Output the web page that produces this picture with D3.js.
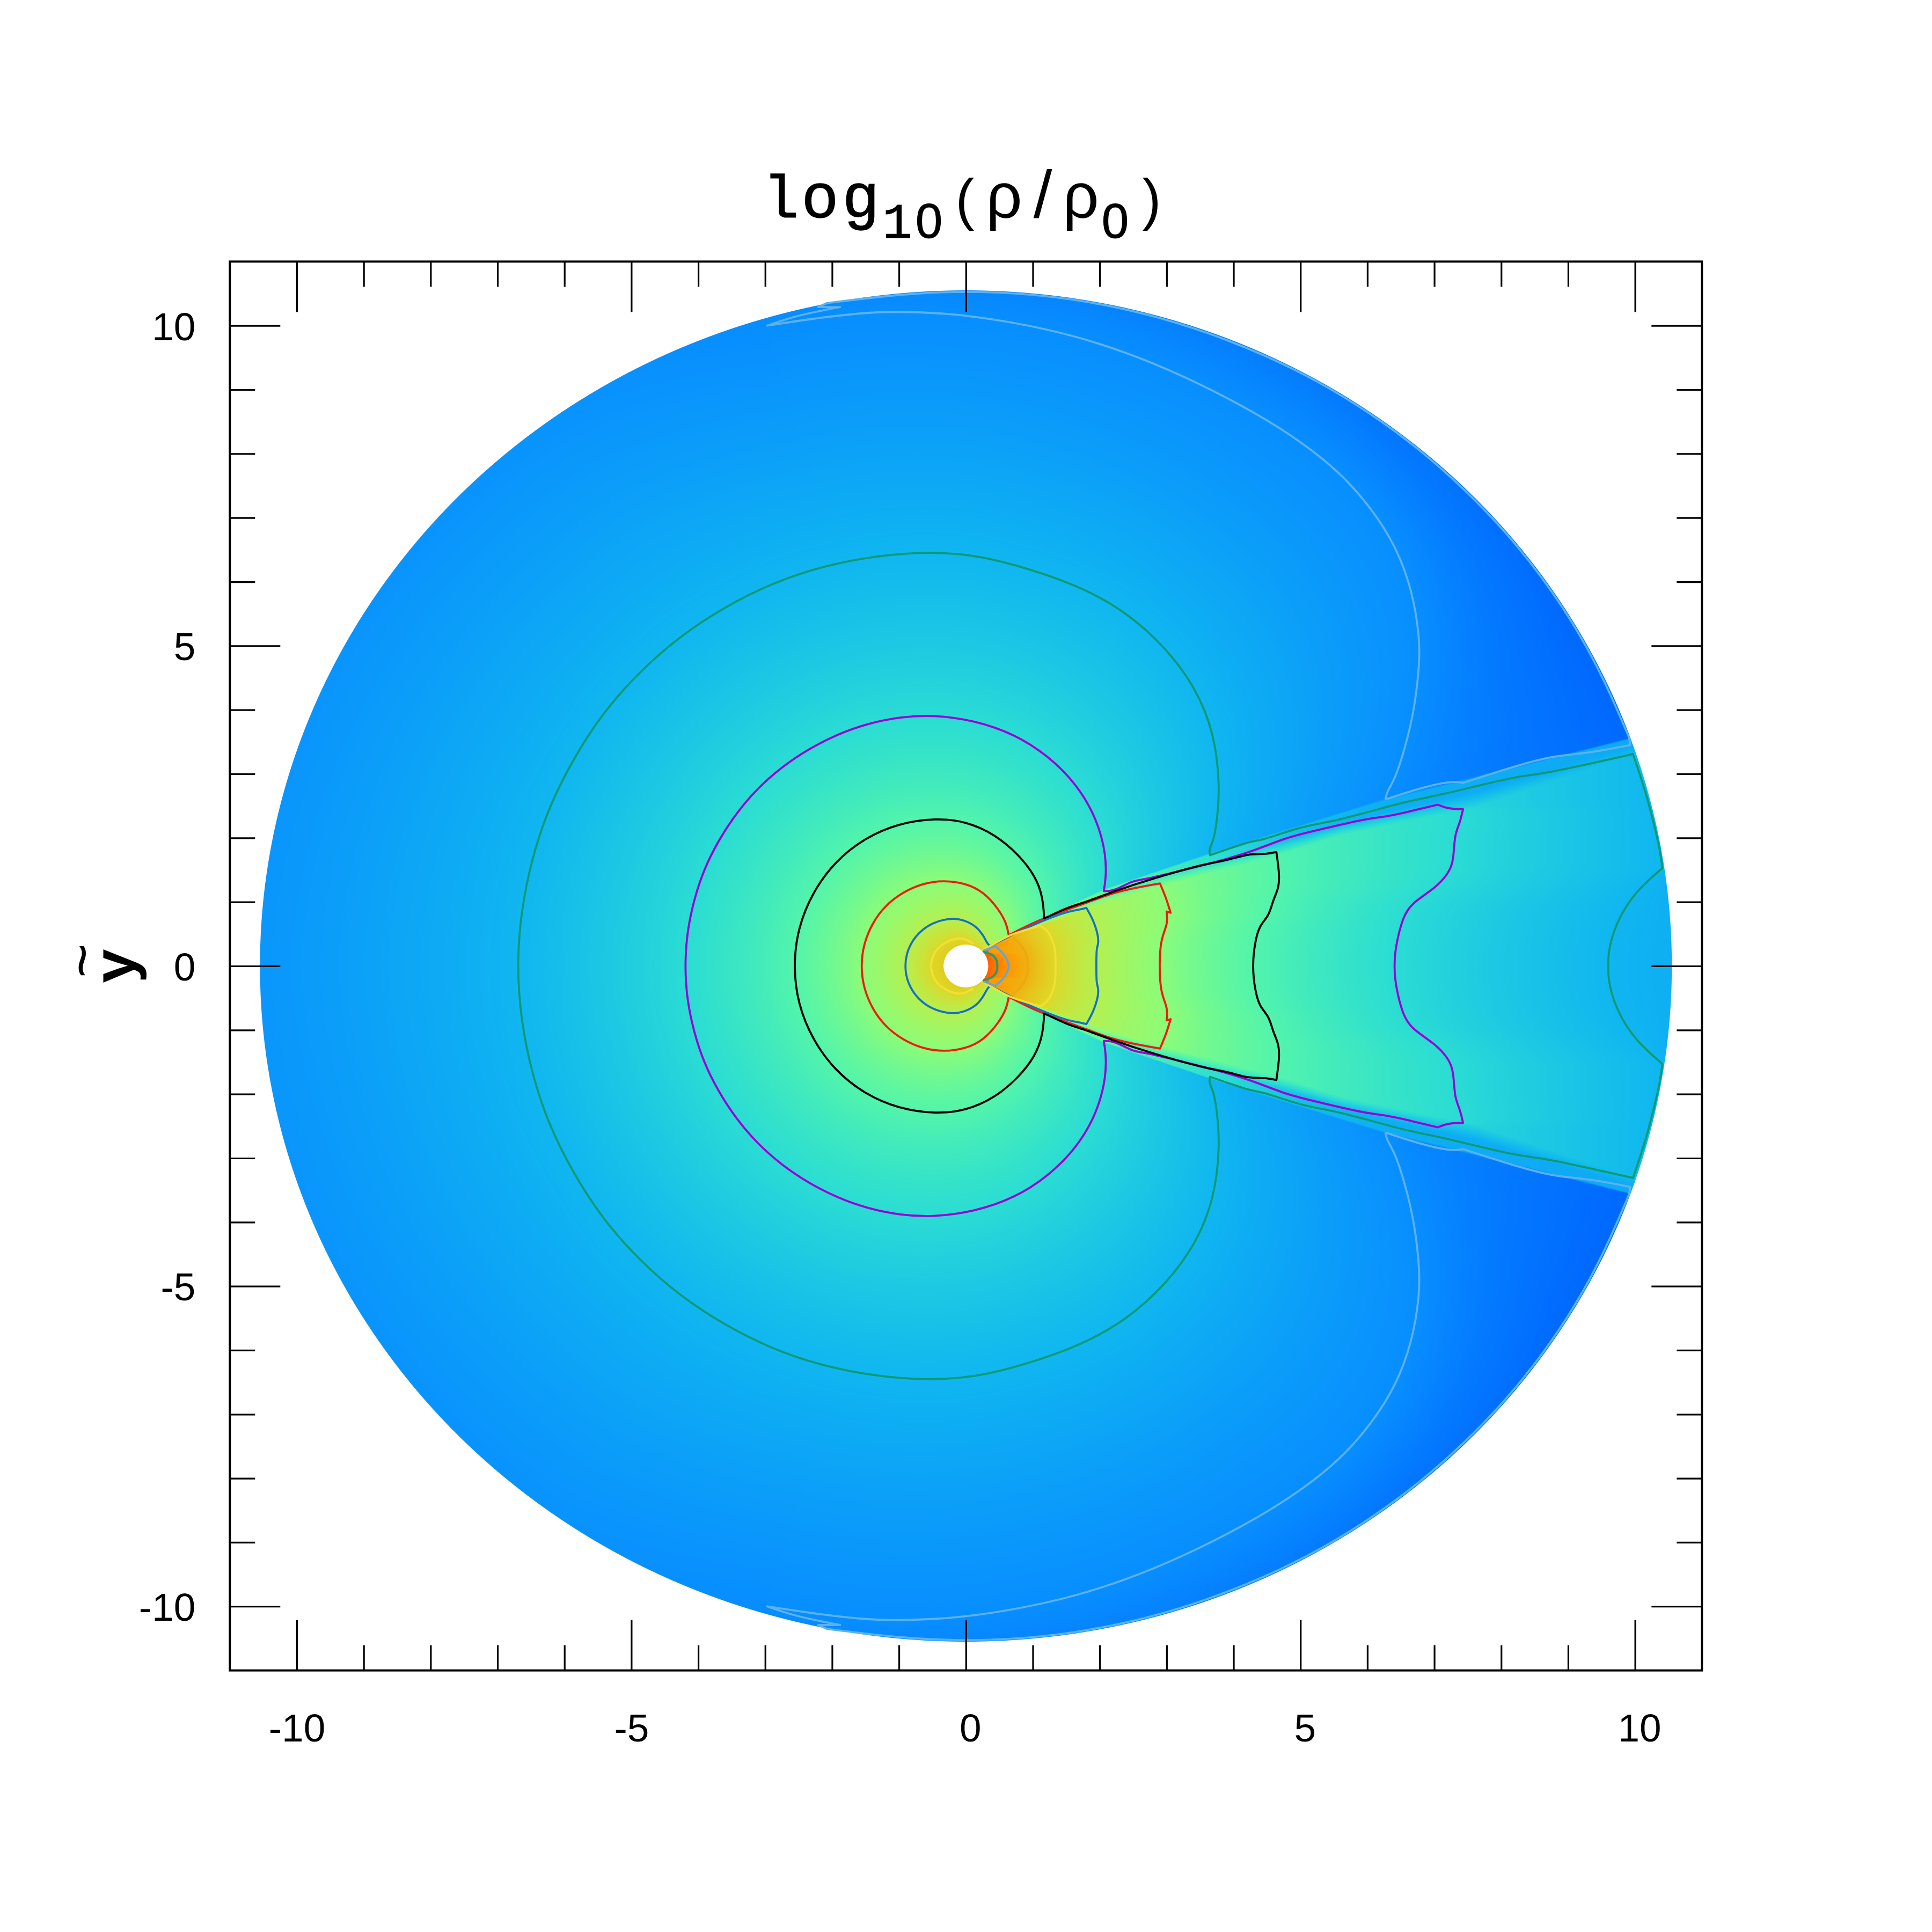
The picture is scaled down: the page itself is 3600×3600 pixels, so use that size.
<!DOCTYPE html>
<html>
<head>
<meta charset="utf-8">
<script src="https://cdn.jsdelivr.net/npm/d3@7"></script>
<style>
  html, body { margin: 0; background: #fff; }
  #field, #chart { position: absolute; left: 0; top: 0; }
</style>
</head>
<body>
<canvas id="field" width="3600" height="3600"></canvas>
<svg id="chart" width="3600" height="3600"></svg>
<script>
// tick values
const majorTicks = [-10, -5, 0, 5, 10]
const minorTicks = [-9, -8, -7, -6, -4, -3, -2, -1, 1, 2, 3, 4, 6, 7, 8, 9]
const tickLabels = ["-10", "-5", "0", "5", "10"]

// disc radii
const discRadius = 10.55
const holeRadius = 0.335

// contours, upper half only, the lower half is the mirror image. [x, y] in axis units
// Ext = outside the wedge, Edge = running along the wedge, Int = inside the wedge
// a point written twice is a sharp corner
const lightExt = [[-2.97,10.0],[-2.97,10.0],[-2.29,10.11],[-1.55,10.2],[-1.09,10.22],[-0.48,10.2],[0,10.16],[0.73,10.05],[1.65,9.84],[2.57,9.52],[3.49,9.10],[4.41,8.59],[5.03,8.17],[5.58,7.72],[6.07,7.14],[6.44,6.53],[6.68,5.83],[6.78,5.12],[6.78,4.74],[6.71,4.03],[6.56,3.39],[6.41,2.91],[6.29,2.72],[6.27,2.60],[6.27,2.60]]
const lightHook = [[-2.53,10.16],[-1.88,10.29],[-1.88,10.29],[-2.21,10.29],[-2.21,10.29],[-2.08,10.35],[-2.08,10.35]]
const lightRim = [[-0.92,10.50],[0,10.54],[0.92,10.50],[1.83,10.38],[2.73,10.18],[3.6,9.90],[4.45,9.55],[5.27,9.13],[6.05,8.63],[6.78,8.07],[7.45,7.45],[8.07,6.78],[8.63,6.05],[9.13,5.27],[9.55,4.45],[9.91,3.57],[9.91,3.57]]
const lightEdge = [[9.93,3.45],[9.93,3.45],[9.29,3.32],[8.83,3.29],[8.32,3.16],[7.43,2.86],[7.43,2.86],[7.25,2.89],[6.79,2.78]]

const greenExt = [[-6.71,0],[-6.65,0.85],[-6.49,1.67],[-6.24,2.47],[-5.87,3.235],[-5.43,3.95],[-4.90,4.575],[-4.29,5.14],[-3.62,5.60],[-2.90,5.98],[-2.13,6.25],[-1.33,6.41],[-0.54,6.47],[0.1,6.42],[0.67,6.29],[1.65,5.96],[2.39,5.54],[3.0,4.96],[3.43,4.35],[3.71,3.65],[3.80,2.81],[3.75,2.24],[3.70,1.95],[3.63,1.82],[3.65,1.73],[3.65,1.73]]
const greenEdge = [[4.28,1.96],[4.39,1.95],[5.05,2.19],[5.41,2.24],[5.97,2.39],[6.58,2.57],[7.09,2.67],[7.71,2.83],[8.25,2.96],[8.53,2.99],[8.99,3.08],[9.97,3.31],[9.97,3.31],[10.16,2.72],[10.29,2.19],[10.37,1.83]]
const greenInt = [[10.41,1.53],[10.41,1.53],[10.09,1.24],[9.86,0.94],[9.68,0.56],[9.60,0.21],[9.60,0]]

const purpleExt = [[-4.20,0],[-4.17,0.51],[-4.07,1.015],[-3.92,1.50],[-3.70,1.96],[-3.43,2.39],[-3.12,2.77],[-2.75,3.11],[-2.35,3.39],[-1.92,3.62],[-1.46,3.79],[-0.98,3.89],[-0.5,3.92],[0.12,3.84],[0.73,3.62],[1.22,3.29],[1.65,2.85],[1.96,2.30],[2.10,1.72],[2.09,1.34],[2.06,1.17],[2.06,1.17]]
const purpleEdge = [[2.22,1.17],[2.50,1.34],[2.68,1.35],[3.22,1.49],[3.73,1.62],[4.29,1.79],[4.79,2.01],[5.25,2.12],[5.97,2.30],[6.28,2.33],[6.66,2.42]]
const purpleInt = [[7.05,2.52],[7.05,2.52],[7.17,2.47],[7.30,2.45],[7.43,2.45],[7.43,2.45],[7.38,2.22],[7.30,2.05],[7.29,1.62],[7.20,1.43],[7.02,1.22],[6.66,0.98],[6.53,0.77],[6.42,0.30],[6.40,0]]

const blackExt = [[-2.58,0],[-2.51,0.60],[-2.29,1.155],[-1.96,1.63],[-1.515,2.0],[-1.0,2.23],[-0.45,2.31],[0,2.26],[0.43,2.06],[0.79,1.74],[1.04,1.40],[1.15,1.08],[1.17,0.74],[1.17,0.74]]
const blackEdge = [[1.53,0.92],[1.74,0.98],[2.20,1.16],[2.71,1.34],[3.58,1.60],[3.88,1.64],[4.24,1.76],[4.45,1.74]]
const blackInt = [[4.64,1.78],[4.64,1.78],[4.69,1.41],[4.67,1.2],[4.59,1.03],[4.53,0.78],[4.39,0.64],[4.32,0.38],[4.28,0]]

const redExt = [[-1.57,0],[-1.53,0.34],[-1.40,0.67],[-1.21,0.94],[-0.95,1.15],[-0.65,1.29],[-0.33,1.34],[0,1.29],[0.26,1.16],[0.49,0.89],[0.61,0.66],[0.64,0.48],[0.64,0.48]]
const redEdge = [[1.10,0.73],[1.69,0.94],[2.2,1.15],[2.63,1.24]]
const redInt = [[2.90,1.29],[2.90,1.29],[2.99,1.07],[3.06,0.83],[3.06,0.83],[3.0,0.85],[3.0,0.85],[3.02,0.66],[2.91,0.42],[2.89,0]]

const blueExt = [[-0.92,0],[-0.87,0.28],[-0.71,0.53],[-0.48,0.69],[-0.21,0.75],[-0.03,0.72],[0.16,0.62],[0.27,0.46],[0.32,0.35],[0.36,0.31],[0.36,0.31]]
const blueEdge = [[0.64,0.46],[0.93,0.61],[1.47,0.84],[1.63,0.866]]
const blueInt = [[1.80,0.907],[1.80,0.907],[1.90,0.73],[1.98,0.475],[1.98,0.335],[1.95,0.28],[1.95,0]]

const yellowExt = [[-0.52,0],[-0.46,0.215],[-0.295,0.37],[-0.07,0.43],[0.11,0.35]]
const yellowEdge = [[0.24,0.24],[0.36,0.31],[0.64,0.47]]
const yellowInt = [[1.11,0.63],[1.11,0.63],[1.22,0.54],[1.32,0.31],[1.34,0]]

const orangeInt = [[0.70,0.447],[0.855,0.28],[0.92,0.11],[0.92,0]]
const paleEdge = [[0.254,0.237]]
const paleInt = [[0.44,0.31],[0.44,0.31],[0.575,0.167],[0.64,0]]
const tealInt = [[0.254,0.223],[0.40,0.167],[0.46,0.084],[0.47,0]]

// edges of the wedge and of the thin band around it, [x, y]
const wedgeInner = [[0.24,0.235],[0.36,0.30],[0.64,0.46],[1.11,0.62],[1.8,0.87],[2.9,1.24],[4.64,1.72],[5.61,2.04],[7.62,2.48],[9.87,3.27],[10.6,3.53]]
const wedgeOuter = [[0.24,0.235],[0.36,0.31],[0.64,0.49],[1.17,0.76],[2.06,1.20],[3.63,1.76],[6.27,2.62],[9.91,3.56],[10.6,3.74]]

// level of the band between wedge and outside, by x
const bandX = [1, 5, 6.3, 10]
const bandLevels = [4, 1.2, 0.8, 0.7]

// level of the field along the rim of the disc, by polar angle in degrees
const rimAngles = [0, 30, 45, 60, 80, 100, 107, 125, 180]
const rimLevels = [-1, -1, -0.8, -0.55, -0.3, -0.15, -0.05, 0.1, 0.2]
const rimLevelInside = 0.8
const holeLevelOutside = 6.3
const holeLevelInside = 10

// colour map, one colour per contour level
const fieldLevels = [-1, 0, 1, 2, 3, 4, 5, 6, 7, 8, 9, 10]
const fieldColors = ["#0068ff","#088eff","#10b6f0","#2adcd4","#52f4ac","#8cfc78","#b4f050","#dcd828","#f0b010","#ff9500","#ff7a00","#ff6000"]

const x = d3.scaleLinear().domain([-11, 11]).range([428.3, 3171.3])
const y = d3.scaleLinear().domain([-11, 11]).range([3112.6, 487.4])

// ---- field ----
const color = d3.scaleLinear().domain(fieldLevels).range(fieldColors).clamp(true)
const colorSteps = 2400
const colorLut = d3.range(colorSteps + 1).map(i => {
	const c = d3.rgb(color(-1 + 11 * i / colorSteps))
	return [c.r, c.g, c.b]
})

const rimLevel = d3.scaleLinear().domain(rimAngles).range(rimLevels)
const bandLevel = d3.scaleLinear().domain(bandX).range(bandLevels).clamp(true)
const edgeScale = pts => d3.scaleLinear().domain(pts.map(d => d[0])).range(pts.map(d => d[1])).clamp(true)
const innerEdge = edgeScale(wedgeInner)
const outerEdge = edgeScale(wedgeOuter)

// radius of a contour against polar angle
function polarScale(pts) {
	const p = pts.map(d => [Math.atan2(d[1], d[0]) * 180 / Math.PI, Math.log(Math.hypot(d[0], d[1]))])
		.sort((a, b) => a[0] - b[0])
	return d3.scaleLinear().domain(p.map(d => d[0])).range(p.map(d => d[1])).clamp(true)
}

const lightTop = Math.atan2(lightExt[0][1], lightExt[0][0]) * 180 / Math.PI
const extContours = [
	{ level: 6, r: polarScale(yellowExt) },
	{ level: 5, r: polarScale(blueExt) },
	{ level: 4, r: polarScale(redExt) },
	{ level: 3, r: polarScale(blackExt) },
	{ level: 2, r: polarScale(purpleExt) },
	{ level: 1, r: polarScale(greenExt) },
	{ level: 0, r: polarScale(lightExt), maxAngle: lightTop }
]

// one radial profile for every quarter degree
const profiles = d3.range(721).map(i => {
	const th = i / 4
	const rs = [Math.log(holeRadius)]
	const ls = [holeLevelOutside]
	extContours.forEach(c => {
		if (c.maxAngle !== undefined && th > c.maxAngle) return
		rs.push(Math.max(c.r(th), rs[rs.length - 1] + 1e-4))
		ls.push(c.level)
	})
	rs.push(Math.max(Math.log(discRadius + 0.05), rs[rs.length - 1] + 1e-4))
	ls.push(rimLevel(th))
	return { rs, ls }
})

function lerpProfile(rs, ls, v) {
	if (v <= rs[0]) return ls[0]
	for (let i = 1; i < rs.length; i++) {
		if (v < rs[i]) return ls[i - 1] + (ls[i] - ls[i - 1]) * (v - rs[i - 1]) / (rs[i] - rs[i - 1])
	}
	return ls[ls.length - 1]
}

// x of an inside contour against |y|
function rowScale(pts) {
	const p = pts.slice().sort((a, b) => a[1] - b[1])
	return d3.scaleLinear().domain(p.map(d => d[1])).range(p.map(d => d[0])).clamp(true)
}
const intContours = [
	{ level: 9, x: rowScale(tealInt) },
	{ level: 8, x: rowScale(paleEdge.concat(paleInt)) },
	{ level: 7, x: rowScale(orangeInt) },
	{ level: 6, x: rowScale(yellowInt) },
	{ level: 5, x: rowScale(blueInt) },
	{ level: 4, x: rowScale(redInt) },
	{ level: 3, x: rowScale(blackInt) },
	{ level: 2, x: rowScale(purpleInt) },
	{ level: 1, x: rowScale(greenInt) }
]

function drawField() {
	const ctx = document.getElementById("field").getContext("2d")
	const x0 = Math.floor(x(-discRadius - 0.1)), x1 = Math.ceil(x(discRadius + 0.1))
	const y0 = Math.floor(y(discRadius + 0.1)), y1 = Math.ceil(y(-discRadius - 0.1))
	const w = x1 - x0, h = y1 - y0
	const img = ctx.createImageData(w, h)
	const xs = new Float64Array(w)
	for (let i = 0; i < w; i++) xs[i] = x.invert(x0 + i + 0.5)
	const scaleStep = colorSteps / 11

	for (let j = 0; j < h; j++) {
		const ay = Math.abs(y.invert(y0 + j + 0.5))
		const rowR = [Math.log(holeRadius)]
		const rowL = [holeLevelInside]
		intContours.forEach(c => {
			rowR.push(Math.max(Math.log(c.x(ay)), rowR[rowR.length - 1] + 1e-4))
			rowL.push(c.level)
		})
		rowR.push(Math.max(Math.log(discRadius + 0.05), rowR[rowR.length - 1] + 1e-4))
		rowL.push(rimLevelInside)

		for (let i = 0; i < w; i++) {
			const xd = xs[i]
			const r = Math.hypot(xd, ay)
			if (r > discRadius + 0.02 || r < holeRadius - 0.03) continue
			const lr = Math.log(r)
			let level
			const yi = xd > 0.24 ? innerEdge(xd) : -1
			const yo = xd > 0.24 ? outerEdge(xd) : -1
			if (ay >= yo) {
				const p = profiles[Math.round(Math.atan2(ay, xd) * 720 / Math.PI)]
				level = lerpProfile(p.rs, p.ls, lr)
			} else {
				const inside = lerpProfile(rowR, rowL, Math.log(Math.max(xd, 0.01)))
				if (ay <= yi) {
					level = inside
				} else {
					// inside the band: ramp down to a plateau, then a quick step to the outside
					const p = profiles[Math.round(Math.atan2(ay, xd) * 720 / Math.PI)]
					const outside = lerpProfile(p.rs, p.ls, lr)
					const f = (ay - yi) / Math.max(yo - yi, 1e-4)
					const mid = Math.min(bandLevel(xd), inside)
					if (f < 0.5) level = inside + (mid - inside) * f / 0.5
					else if (f < 0.92) level = mid
					else level = mid + (outside - mid) * (f - 0.92) / 0.08
				}
			}
			const c = colorLut[Math.max(0, Math.min(colorSteps, Math.round((level + 1) * scaleStep)))]
			const k = (j * w + i) * 4
			img.data[k] = c[0]
			img.data[k + 1] = c[1]
			img.data[k + 2] = c[2]
			img.data[k + 3] = Math.max(0, Math.min(255, (discRadius - r) * 122 * 255 + 128))
		}
	}
	ctx.putImageData(img, x0, y0)
}
drawField()

// ---- svg layer ----
const svg = d3.select("#chart")
const line = d3.line().x(d => x(d[0])).y(d => y(d[1])).curve(d3.curveCatmullRom.alpha(0.5))
// the big contours go through a basis spline, it irons out the reading noise
const basisClosed = d3.line().x(d => x(d[0])).y(d => y(d[1])).curve(d3.curveBasisClosed)
const mirror = pts => pts.map(d => [d[0], -d[1]])

// a basis spline only reaches a corner when the point is there three times
function sharpen(pts) {
	const out = []
	pts.forEach((d, i) => {
		out.push(d)
		const next = pts[i + 1]
		if (next && next[0] === d[0] && next[1] === d[1]) out.push(d)
	})
	return out
}

// closed through y = 0 on both ends
const throughAxis = pts => pts.concat(mirror(pts.slice(1, -1)).reverse())
// open, runs from the top end down through y = 0 to the bottom end
const bothSides = pts => pts.concat(mirror(pts.slice(0, -1)).reverse())
// same, but the list starts at y = 0
const bothSidesRev = pts => mirror(pts.slice(1)).reverse().concat(pts)

// lightExt runs spike to wedge, the loop goes the other way round
const lightPath = lightExt.slice().reverse().concat(lightHook, lightRim, lightEdge)

const contourPaths = [
	{ stroke: "#5cb2ec", d: basisClosed(sharpen(lightPath)) },
	{ stroke: "#5cb2ec", d: basisClosed(sharpen(mirror(lightPath))) },
	{ stroke: "#0d9a72", d: basisClosed(sharpen(throughAxis(greenExt.concat(greenEdge, greenInt)))) },
	{ stroke: "#9a00d6", d: basisClosed(sharpen(throughAxis(purpleExt.concat(purpleEdge, purpleInt)))) },
	{ stroke: "#ee1c10", d: basisClosed(sharpen(throughAxis(redExt.concat(redEdge, redInt)))) },
	{ stroke: "#000000", d: basisClosed(sharpen(throughAxis(blackExt.concat(blackEdge, blackInt)))) },
	{ stroke: "#1670c2", d: basisClosed(sharpen(throughAxis(blueExt.concat(blueEdge, blueInt)))) },
	{ stroke: "#f4e032", d: line(bothSidesRev(yellowExt)) },
	{ stroke: "#f4e032", d: line(bothSides(yellowEdge.concat(yellowInt))) },
	{ stroke: "#eca812", d: line(bothSides(orangeInt)) },
	{ stroke: "#5ba8e0", d: line(bothSides(paleEdge.concat(paleInt))) },
	{ stroke: "#12a07c", d: line(bothSides(tealInt)) }
]

svg.append("g").selectAll("path").data(contourPaths).join("path")
	.attr("d", d => d.d)
	.attr("fill", "none")
	.attr("stroke", d => d.stroke)
	.attr("stroke-width", 3.8)
	.attr("stroke-linejoin", "round")

// hole in the middle
svg.append("ellipse")
	.attr("cx", x(0)).attr("cy", y(0))
	.attr("rx", x(holeRadius) - x(0)).attr("ry", y(0) - y(holeRadius))
	.attr("fill", "#fff")

// ---- axes ----
const majorLen = 94, minorLen = 47
const labelFor = d => tickLabels[majorTicks.indexOf(d)]
const axes = svg.append("g").attr("class", "axes")

function addAxis(maker, scale, values, len, tx, ty, labelled, padding) {
	const axis = maker(scale).tickValues(values).tickSizeOuter(0).tickSizeInner(-len)
		.tickPadding(padding || 0).tickFormat(labelled ? labelFor : () => "")
	return axes.append("g").attr("transform", `translate(${tx},${ty})`).call(axis)
}

const xBottom = y(-11), xTop = y(11), yLeft = x(-11), yRight = x(11)
const bottomMajor = addAxis(d3.axisBottom, x, majorTicks, majorLen, 0, xBottom, true, 81)
addAxis(d3.axisBottom, x, minorTicks, minorLen, 0, xBottom, false)
addAxis(d3.axisTop, x, majorTicks, majorLen, 0, xTop, false)
addAxis(d3.axisTop, x, minorTicks, minorLen, 0, xTop, false)
const leftMajor = addAxis(d3.axisLeft, y, majorTicks, majorLen, yLeft, 0, true, 64)
addAxis(d3.axisLeft, y, minorTicks, minorLen, yLeft, 0, false)
addAxis(d3.axisRight, y, majorTicks, majorLen, yRight, 0, false)
addAxis(d3.axisRight, y, minorTicks, minorLen, yRight, 0, false)

axes.selectAll(".domain").remove()
axes.selectAll(".tick line").attr("stroke", "#000").attr("stroke-width", 3.2)
axes.selectAll(".tick text")
	.attr("fill", "#000")
	.style("font-family", "'Liberation Sans', Arial, sans-serif")
	.style("font-size", "73px")
leftMajor.selectAll(".tick text").attr("dy", "0.36em")
bottomMajor.selectAll(".tick text").attr("x", d => d >= 0 ? 8 : 0)

svg.append("rect")
	.attr("x", yLeft).attr("y", xTop)
	.attr("width", yRight - yLeft).attr("height", xBottom - xTop)
	.attr("fill", "none").attr("stroke", "#000").attr("stroke-width", 4)

// ---- title, every piece placed on its own like the original ----
const mono = "'Liberation Mono', monospace"
const sans = "'Liberation Sans', sans-serif"
const titleParts = [
	{ t: "l", cx: 1455, by: 405, size: 112, font: mono, bold: 1.4 },
	{ t: "o", cx: 1528, by: 405, size: 116, font: mono, bold: 1.4 },
	{ t: "g", cx: 1604, by: 405, size: 116, font: mono, bold: 1.4 },
	{ t: "1", cx: 1672, by: 443, size: 92, font: mono, bold: 1.2 },
	{ t: "0", cx: 1731, by: 443, size: 90, font: sans, bold: 1.2 },
	{ t: "(", cx: 1798, by: 408, size: 105, font: sans, bold: 0 },
	{ t: "ρ", cx: 1871, by: 405, size: 118, font: sans, bold: 0 },
	{ t: "/", cx: 1943, by: 405, size: 125, font: sans, bold: 0 },
	{ t: "ρ", cx: 2014, by: 405, size: 118, font: sans, bold: 0 },
	{ t: "0", cx: 2078, by: 443, size: 90, font: sans, bold: 1.2 },
	{ t: ")", cx: 2146, by: 408, size: 105, font: sans, bold: 0 }
]
svg.append("g").attr("class", "title").selectAll("text").data(titleParts).join("text")
	.attr("x", d => d.cx).attr("y", d => d.by)
	.attr("text-anchor", "middle")
	.style("font-family", d => d.font)
	.style("font-size", d => d.size + "px")
	.attr("fill", "#000")
	.attr("stroke", "#000")
	.attr("stroke-width", d => d.bold)
	.text(d => d.t)

// y label, rotated
svg.append("text")
	.attr("transform", "translate(250,1800) rotate(-90)")
	.attr("text-anchor", "middle")
	.style("font-family", mono).style("font-weight", "bold").style("font-size", "110px")
	.text("y")
svg.append("text")
	.attr("transform", "translate(190,1790) rotate(-90)")
	.attr("text-anchor", "middle")
	.style("font-family", sans).style("font-size", "110px")
	.text("~")
</script>
</body>
</html>
